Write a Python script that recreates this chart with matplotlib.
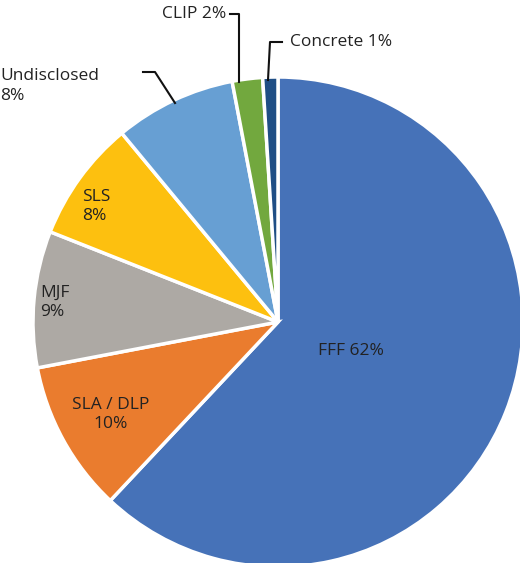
import matplotlib
matplotlib.use("Agg")
import matplotlib.pyplot as plt
import numpy as np

labels = ["FFF", "SLA / DLP", "MJF", "SLS", "Undisclosed", "CLIP", "Concrete"]
values = [62, 10, 9, 8, 8, 2, 1]
colors = ["#4672B8", "#EA7C2E", "#ADA9A4", "#FDC00F", "#679FD3", "#72A83E", "#1F4E85"]

plt.rcParams['font.family'] = ['Open Sans', 'DejaVu Sans']
W, H = 520, 563
fig = plt.figure(figsize=(5.2, 5.63), dpi=100)
cx, cy, R = 278, 322, 245
ax = fig.add_axes([(cx - R) / W, 1 - (cy + R) / H, 2 * R / W, 2 * R / H])
ax.pie(values, colors=colors, startangle=90, counterclock=False, radius=1,
       wedgeprops=dict(edgecolor="white", linewidth=2.5))
ax.set_xlim(-1, 1); ax.set_ylim(-1, 1); ax.set_aspect('equal'); ax.axis('off')

def px(x, y):
    return ((x - cx) / R, (cy - y) / R)

fs = 12.5
# inside labels
radii = [0.32, 0.78, 0.86, 0.8]
ang = 90.0
mids = []
for v in values:
    span = v / sum(values) * 360
    mids.append(ang - span / 2)
    ang -= span
texts = ["FFF 62%", "SLA / DLP\n10%", "MJF\n9%", "SLS\n8%"]
aligns = ["center", "center", "left", "left"]
for i in range(4):
    a = np.deg2rad(mids[i])
    x, y = radii[i] * np.cos(a), radii[i] * np.sin(a)
    if i == 2: x = -0.97
    if i == 3: x = -0.80
    ax.text(x, y, texts[i], ha=aligns[i], va='center', fontsize=fs, color="#222222",
            linespacing=1.25)

lc = "#111111"
# Undisclosed
p = [px(175, 103), px(155, 72), px(143, 72)]
ax.plot(*zip(*p), color=lc, lw=1.5, clip_on=False)
ax.text(*px(0, 86), f"{labels[4]}\n{values[4]}%", ha='left', va='center', fontsize=fs,
        color="#222222", linespacing=1.25)
# CLIP
p = [px(239, 82), px(239, 14), px(230, 14)]
ax.plot(*zip(*p), color=lc, lw=1.5, clip_on=False)
ax.text(*px(226, 14), f"{labels[5]} {values[5]}%", ha='right', va='center', fontsize=fs, color="#222222")
# Concrete
p = [px(268, 80), px(270, 42), px(282, 42)]
ax.plot(*zip(*p), color=lc, lw=1.5, clip_on=False)
ax.text(*px(290, 42), f"{labels[6]} {values[6]}%", ha='left', va='center', fontsize=fs, color="#222222")

fig.savefig("out.png", dpi=100)
